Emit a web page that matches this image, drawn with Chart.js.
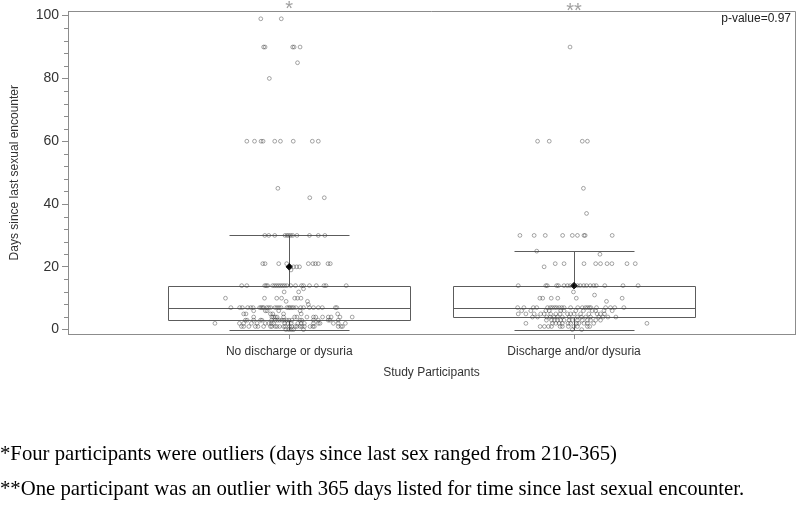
<!DOCTYPE html>
<html><head><meta charset="utf-8">
<script src="https://cdn.jsdelivr.net/npm/chart.js@4.4.0/dist/chart.umd.min.js"></script>
<style>
html,body{margin:0;padding:0;background:#fff;width:800px;height:505px;overflow:hidden;}
#wrap{position:relative;width:800px;height:505px;}
canvas{position:absolute;left:0;top:0;}
.note{position:absolute;left:0;font-family:"Liberation Serif","Times New Roman",serif;font-size:22px;line-height:22px;color:#000;white-space:nowrap;transform:scaleX(0.942);transform-origin:0 0;}
</style></head><body>
<div id="wrap"><canvas id="c" width="800" height="505"></canvas>
<div class="note" id="n1" style="top:441.5px"></div><div class="note" id="n2" style="top:476.5px"></div></div>
<script>
// ---------- data ----------
const categories = ['No discharge or dysuria', 'Discharge and/or dysuria'];
const yTickValues = [0, 20, 40, 60, 80, 100];
const q1 = [3, 4];
const medians = [7, 7];
const q3 = [14, 14];
const whiskerLow = [0, 0];
const whiskerHigh = [30, 25];
const means = [20, 14];
const outlierMarks = ['*', '**'];
const pValueLabel = 'p-value=0.97';
const xTitle = 'Study Participants';
const yTitle = 'Days since last sexual encounter';
const footnotes = [
  '*Four participants were outliers (days since last sex ranged from 210-365)',
  '**One participant was an outlier with 365 days listed for time since last sexual encounter.'
];
// [jitter (category units), days]
const group1Points = [
  [-0.100,99],[-0.028,99],
  [-0.090,90],[-0.085,90],[0.012,90],[0.017,90],[0.038,90],
  [0.029,85],[-0.070,80],
  [-0.149,60],[-0.122,60],[-0.099,60],[-0.092,60],[-0.051,60],[-0.031,60],[0.014,60],[0.081,60],[0.102,60],
  [-0.040,45],[0.072,42],[0.123,42],
  [-0.086,30],[-0.072,30],[-0.051,30],[-0.015,30],[-0.008,30],[-0.002,30],[0.005,30],[0.012,30],[0.027,30],[0.071,30],[0.102,30],[0.125,30],
  [-0.093,21],[-0.085,21],[-0.037,21],[-0.009,21],[0.067,21],[0.083,21],[0.092,21],[0.102,21],[0.136,21],[0.144,21],
  [0.015,20],[0.026,20],[0.036,20],[0.006,19],
  [-0.167,14],[-0.149,14],[-0.086,14],[-0.081,14],[-0.076,14],[-0.058,14],[-0.051,14],[-0.044,14],[-0.037,14],[-0.030,14],[-0.023,14],
  [-0.016,14],[-0.008,14],[0.005,14],[0.022,14],[0.043,14],[0.050,14],[0.071,14],[0.095,14],[0.122,14],[0.129,14],[0.200,14],
  [0.050,13],[-0.018,12],[0.033,12],
  [-0.224,10],[-0.087,10],[-0.044,10],[-0.027,10],[0.019,10],[0.029,10],[0.041,10],
  [-0.011,9],[0.064,9],[0.067,8],
  [-0.205,7],[-0.174,7],[-0.165,7],[-0.146,7],[-0.135,7],[-0.127,7],[-0.104,7],[-0.099,7],[-0.094,7],[-0.090,7],[-0.079,7],
  [-0.072,7],[-0.065,7],[-0.050,7],[-0.043,7],[-0.036,7],[-0.029,7],[-0.008,7],[-0.002,7],[0.003,7],[0.009,7],[0.015,7],
  [0.024,7],[0.040,7],[0.050,7],[0.071,7],[0.085,7],[0.102,7],[0.116,7],[0.162,7],[0.167,7],
  [-0.125,6],[-0.084,6],[-0.078,6],[-0.037,6],[0.038,6],
  [-0.160,5],[-0.152,5],[-0.066,5],[-0.058,5],[-0.020,5],[0.042,5],[0.170,5],
  [-0.125,4],[-0.061,4],[-0.055,4],[-0.049,4],[-0.043,4],[-0.020,4],[0.019,4],[0.027,4],[0.062,4],[0.085,4],[0.093,4],
  [0.117,4],[0.137,4],[0.147,4],[0.178,4],[0.221,4],
  [-0.154,3],[-0.148,3],[-0.125,3],[-0.101,3],[-0.096,3],[-0.062,3],[-0.049,3],[-0.041,3],[-0.034,3],[-0.025,3],[-0.018,3],
  [-0.009,3],[-0.001,3],[0.009,3],[0.038,3],[0.044,3],[0.085,3],[0.102,3],[0.137,3],[0.143,3],[0.172,3],
  [-0.261,2],[-0.175,2],[-0.160,2],[-0.133,2],[-0.113,2],[-0.084,2],[-0.072,2],[-0.063,2],[-0.055,2],[-0.016,2],[-0.005,2],
  [0.007,2],[0.030,2],[0.042,2],[0.053,2],[0.085,2],[0.102,2],[0.108,2],[0.155,2],[0.172,2],[0.197,2],
  [-0.168,1],[-0.160,1],[-0.142,1],[-0.119,1],[-0.110,1],[-0.090,1],[-0.066,1],[-0.061,1],[-0.049,1],[-0.043,1],[-0.034,1],
  [-0.020,1],[-0.014,1],[0.001,1],[0.009,1],[0.021,1],[0.027,1],[0.038,1],[0.044,1],[0.053,1],[0.073,1],[0.083,1],
  [0.088,1],[0.172,1],[0.182,1],[0.187,1],
  [-0.012,0],[-0.002,0],[0.007,0],[0.015,0],[0.050,0]
];
const group2Points = [
  [-0.014,90],
  [-0.128,60],[-0.087,60],[0.029,60],[0.047,60],
  [0.033,45],[0.044,37],
  [-0.190,30],[-0.140,30],[-0.101,30],[-0.040,30],[-0.006,30],[0.012,30],[0.035,30],[0.039,30],[0.134,30],
  [-0.131,25],[0.091,24],
  [-0.066,21],[-0.035,21],[0.035,21],[0.076,21],[0.093,21],[0.116,21],[0.133,21],[0.186,21],[0.215,21],
  [-0.105,20],
  [-0.196,14],[-0.099,14],[-0.094,14],[-0.061,14],[-0.055,14],[-0.035,14],[-0.023,14],[-0.013,14],[-0.002,14],[0.012,14],
  [0.022,14],[0.034,14],[0.044,14],[0.057,14],[0.069,14],[0.078,14],[0.108,14],[0.172,14],[0.225,14],
  [-0.002,12],[0.072,11],
  [-0.120,10],[-0.110,10],[-0.080,10],[-0.057,10],[0.008,10],[0.169,10],
  [0.114,9],
  [-0.198,7],[-0.176,7],[-0.143,7],[-0.131,7],[-0.093,7],[-0.083,7],[-0.076,7],[-0.068,7],[-0.061,7],[-0.052,7],[-0.043,7],
  [-0.035,7],[-0.012,7],[0.013,7],[0.029,7],[0.040,7],[0.047,7],[0.054,7],[0.059,7],[0.079,7],[0.111,7],[0.128,7],[0.143,7],[0.175,7],
  [-0.184,6],[-0.152,6],[-0.099,6],[-0.087,6],[-0.047,6],[-0.035,6],[0.006,6],[0.033,6],[0.064,6],[0.076,6],[0.105,6],[0.134,6],
  [-0.196,5],[-0.169,5],[-0.140,5],[-0.117,5],[-0.105,5],[-0.082,5],[-0.064,5],[-0.049,5],[-0.023,5],[-0.012,5],[0.000,5],
  [0.023,5],[0.052,5],[0.081,5],[0.093,5],[0.107,5],
  [-0.146,4],[-0.128,4],[-0.096,4],[-0.084,4],[-0.070,4],[-0.058,4],[-0.041,4],[-0.017,4],[0.012,4],[0.026,4],[0.041,4],
  [0.058,4],[0.087,4],[0.102,4],[0.119,4],[0.147,4],
  [-0.097,3],[-0.079,3],[-0.069,3],[-0.058,3],[-0.047,3],[-0.035,3],[-0.017,3],[-0.006,3],[0.012,3],[0.029,3],[0.047,3],
  [0.058,3],[0.076,3],[0.093,3],
  [-0.169,2],[-0.076,2],[-0.064,2],[-0.052,2],[-0.041,2],[-0.021,2],[-0.012,2],[0.009,2],[0.017,2],[0.035,2],[0.047,2],[0.069,2],[0.256,2],
  [-0.119,1],[-0.104,1],[-0.090,1],[-0.079,1],[-0.049,1],[-0.041,1],[-0.020,1],[0.000,1],[0.012,1],[0.047,1],[0.055,1],
  [-0.006,0],[0.027,0]
];

// ---------- rendering ----------
const FONT = '"Liberation Sans", Arial, sans-serif';
const TEXT = '#333333';
const AXIS = '#8c8c8c';
const BOX_HALF = 0.425;
const CAP_HALF = 0.2115;
const MINOR_STEP = 4;

document.getElementById('n1').textContent = footnotes[0];
document.getElementById('n2').textContent = footnotes[1];

const toPoints = (pts, idx) => pts.map(([j, d]) => ({ x: idx + j, y: d }));

const px = v => Math.round(v) + 0.5;

const boxPlugin = {
  id: 'boxes',
  beforeDatasetsDraw(chart) {
    const { ctx, scales: { x, y } } = chart;
    ctx.save();
    ctx.strokeStyle = '#5c5c5c';
    ctx.lineWidth = 1;
    categories.forEach((c, i) => {
      const xl = px(x.getPixelForValue(i - BOX_HALF)), xr = px(x.getPixelForValue(i + BOX_HALF));
      const cl = px(x.getPixelForValue(i - CAP_HALF)), cr = px(x.getPixelForValue(i + CAP_HALF));
      const xc = px(x.getPixelForValue(i));
      const y1 = px(y.getPixelForValue(q1[i])), y3 = px(y.getPixelForValue(q3[i]));
      const ym = px(y.getPixelForValue(medians[i]));
      const yl = px(y.getPixelForValue(whiskerLow[i])), yh = px(y.getPixelForValue(whiskerHigh[i]));
      ctx.beginPath();
      ctx.rect(xl, y3, xr - xl, y1 - y3);
      ctx.moveTo(xl, ym); ctx.lineTo(xr, ym);
      ctx.moveTo(xc, y3); ctx.lineTo(xc, yh);
      ctx.moveTo(xc, y1); ctx.lineTo(xc, yl);
      ctx.moveTo(cl, yh); ctx.lineTo(cr, yh);
      ctx.moveTo(cl, yl); ctx.lineTo(cr, yl);
      ctx.stroke();
    });
    ctx.restore();
  },
  afterDraw(chart) {
    const { ctx, chartArea: a, scales: { x, y } } = chart;
    ctx.save();
    // frame top/right
    ctx.strokeStyle = AXIS; ctx.lineWidth = 1;
    ctx.beginPath();
    ctx.moveTo(px(a.left) - 0.5, px(a.top)); ctx.lineTo(px(a.right), px(a.top));
    ctx.lineTo(px(a.right), px(a.bottom));
    ctx.stroke();
    // minor ticks
    ctx.beginPath();
    for (let v = 0; v <= yTickValues[yTickValues.length - 1]; v += MINOR_STEP) {
      if (yTickValues.includes(v)) continue;
      const yy = px(y.getPixelForValue(v));
      ctx.moveTo(a.left - 4, yy); ctx.lineTo(a.left, yy);
    }
    ctx.stroke();
    // outlier marks
    ctx.fillStyle = '#a0a0a0';
    ctx.font = '20px ' + FONT;
    ctx.textAlign = 'center';
    ctx.textBaseline = 'alphabetic';
    outlierMarks.forEach((m, i) => {
      ctx.fillText(m, x.getPixelForValue(i), 15 + i * 1.5);
    });
    // p-value
    ctx.fillStyle = '#222';
    ctx.font = '12px ' + FONT;
    ctx.textAlign = 'right';
    ctx.fillText(pValueLabel, a.right - 4, 22);
    ctx.restore();
  }
};

new Chart(document.getElementById('c'), {
  type: 'scatter',
  data: {
    datasets: [
      {
        label: categories[0],
        data: toPoints(group1Points, 0),
        pointStyle: 'circle', pointRadius: 1.9, borderWidth: 0.9,
        borderColor: 'rgba(60,60,60,0.5)', backgroundColor: 'rgba(0,0,0,0)'
      },
      {
        label: categories[1],
        data: toPoints(group2Points, 1),
        pointStyle: 'circle', pointRadius: 1.9, borderWidth: 0.9,
        borderColor: 'rgba(60,60,60,0.5)', backgroundColor: 'rgba(0,0,0,0)'
      },
      {
        label: 'Mean',
        data: means.map((m, i) => ({ x: i, y: m })),
        pointStyle: 'rectRot', pointRadius: 3.2, borderWidth: 1,
        borderColor: '#000', backgroundColor: '#000'
      }
    ]
  },
  options: {
    responsive: false,
    animation: false,
    devicePixelRatio: 1,
    layout: { padding: { top: 9, right: 1, left: 0, bottom: 121 } },
    plugins: { legend: { display: false }, tooltip: { enabled: false } },
    scales: {
      x: {
        type: 'linear', min: -0.777, max: 1.776,
        afterBuildTicks: s => { s.ticks = categories.map((c, i) => ({ value: i })); },
        afterFit: s => { s.height = 50; },
        ticks: { callback: v => categories[v], font: { family: FONT, size: 12 }, color: TEXT, padding: 5, maxRotation: 0, autoSkip: false },
        grid: { display: true, drawOnChartArea: false, drawTicks: true, tickLength: 5, color: AXIS },
        border: { display: true, color: AXIS },
        title: { display: true, text: xTitle, font: { family: FONT, size: 12 }, color: TEXT, padding: { top: 4, bottom: 4 } }
      },
      y: {
        type: 'linear', min: -1.4, max: 101.35,
        afterBuildTicks: s => { s.ticks = yTickValues.map(v => ({ value: v })); },
        afterFit: s => { s.width = 68; },
        ticks: { font: { family: FONT, size: 14 }, color: TEXT, padding: 3 },
        grid: { display: true, drawOnChartArea: false, drawTicks: true, tickLength: 6, color: AXIS },
        border: { display: true, color: AXIS },
        title: { display: true, text: yTitle, font: { family: FONT, size: 12 }, color: TEXT, padding: { top: 7, bottom: 4 } }
      }
    }
  },
  plugins: [boxPlugin]
});
</script>
</body></html>
